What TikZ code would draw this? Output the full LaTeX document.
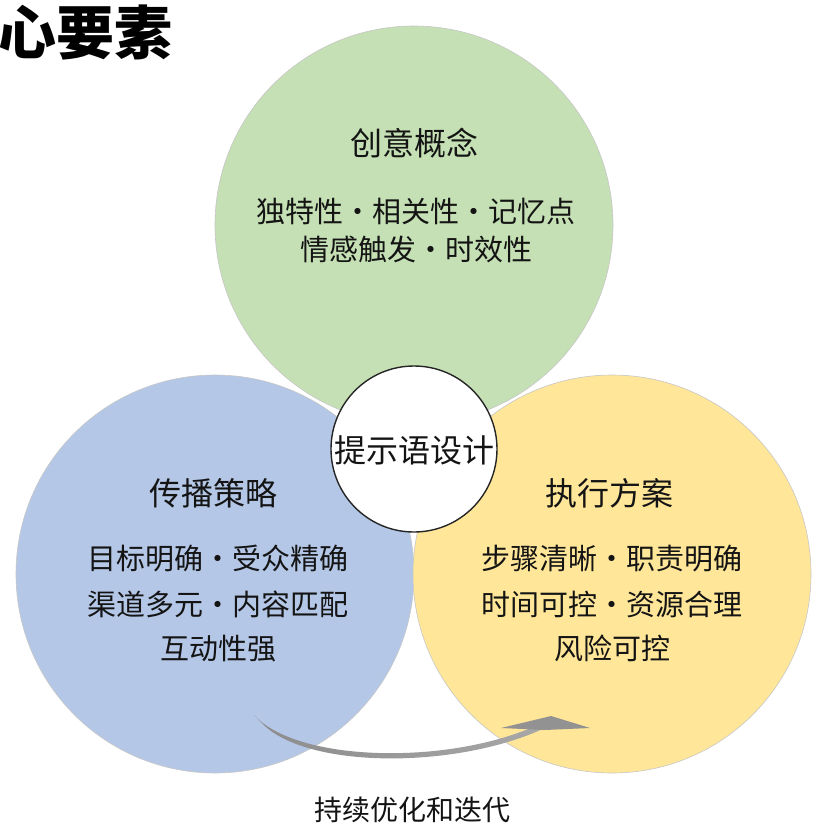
\documentclass[tikz,border=0pt]{standalone}
\usepackage{fontspec}
\setmainfont{Noto Sans CJK SC}
\newfontfamily\cjk{Noto Sans CJK SC}
\definecolor{cgreen}{HTML}{C5E0B4}
\definecolor{cblue}{HTML}{B4C7E7}
\definecolor{cyellow}{HTML}{FFE699}
\definecolor{arrowgray}{HTML}{8C8C8C}
\definecolor{arrowlight}{HTML}{A8A8A8}
\definecolor{txt}{HTML}{141414}
\begin{document}
\begin{tikzpicture}[x=1pt,y=-1pt,
  venn/.style={circle, minimum size=398pt, inner sep=0pt, draw=black!22, line width=0.6pt},
  hub/.style={circle, minimum size=166pt, inner sep=0pt, draw=black!85, line width=1.4pt, fill=white},
  headtxt/.style={inner sep=0pt, text=txt, font=\cjk\fontsize{32}{38}\selectfont, text height=0.88em, text depth=0.12em},
  bodytxt/.style={inner sep=0pt, text=txt, font=\cjk\fontsize{29}{35}\selectfont, text height=0.88em, text depth=0.12em},
  labeltxt/.style={inner sep=0pt, text=txt, font=\cjk\fontsize{28}{34}\selectfont, text height=0.88em, text depth=0.12em},
  titletxt/.style={inner sep=0pt, text=black, font=\cjk\bfseries\fontsize{58}{64}\selectfont, text height=0.88em, text depth=0.12em}]
\useasboundingbox (0,0) rectangle (816,828);
\fill[white] (0,0) rectangle (816,828);

% circles
\node[venn, fill=cblue] (blue) at (215,574) {};
\node[venn, fill=cyellow] (yellow) at (612,574) {};
\node[venn, fill=cgreen] (green) at (414,225) {};
\node[hub] (hub) at (414,449) {};

% title (clipped at left, as in the reference)
\node[titletxt, anchor=west] (title) at (-2,51) {心要素};

% green texts
\node[headtxt] (gh) at (414,152) {创意概念};
\node[bodytxt] (g1) at (416,219) {独特性・相关性・记忆点};
\node[bodytxt] (g2) at (416,257) {情感触发・时效性};

% hub text
\node[headtxt] (ht) at (414,459) {提示语设计};

% blue texts
\node[headtxt] (bh) at (213,502) {传播策略};
\node[bodytxt] (b1) at (218,566) {目标明确・受众精确};
\node[bodytxt] (b2) at (218,612) {渠道多元・内容匹配};
\node[bodytxt] (b3) at (218,656) {互动性强};

% yellow texts
\node[headtxt] (yh) at (609,502) {执行方案};
\node[bodytxt] (y1) at (612,566) {步骤清晰・职责明确};
\node[bodytxt] (y2) at (612,612) {时间可控・资源合理};
\node[bodytxt] (y3) at (612,656) {风险可控};

% cycle arrow
\coordinate (arrS) at (257,717);
\coordinate (arrE) at (548,723);
\shade[left color=arrowgray, right color=arrowlight]
  (254,715) .. controls (298,764) and (460,766) .. (548,720)
  -- (549,726) .. controls (460,770) and (302,770) .. (260,721) -- cycle;
\fill[arrowgray!95] (501,728) -- (551,716) -- (590,728) -- (545,730) -- cycle;

% bottom label
\node[labeltxt] (loop) at (412,817) {持续优化和迭代};
\end{tikzpicture}
\end{document}
